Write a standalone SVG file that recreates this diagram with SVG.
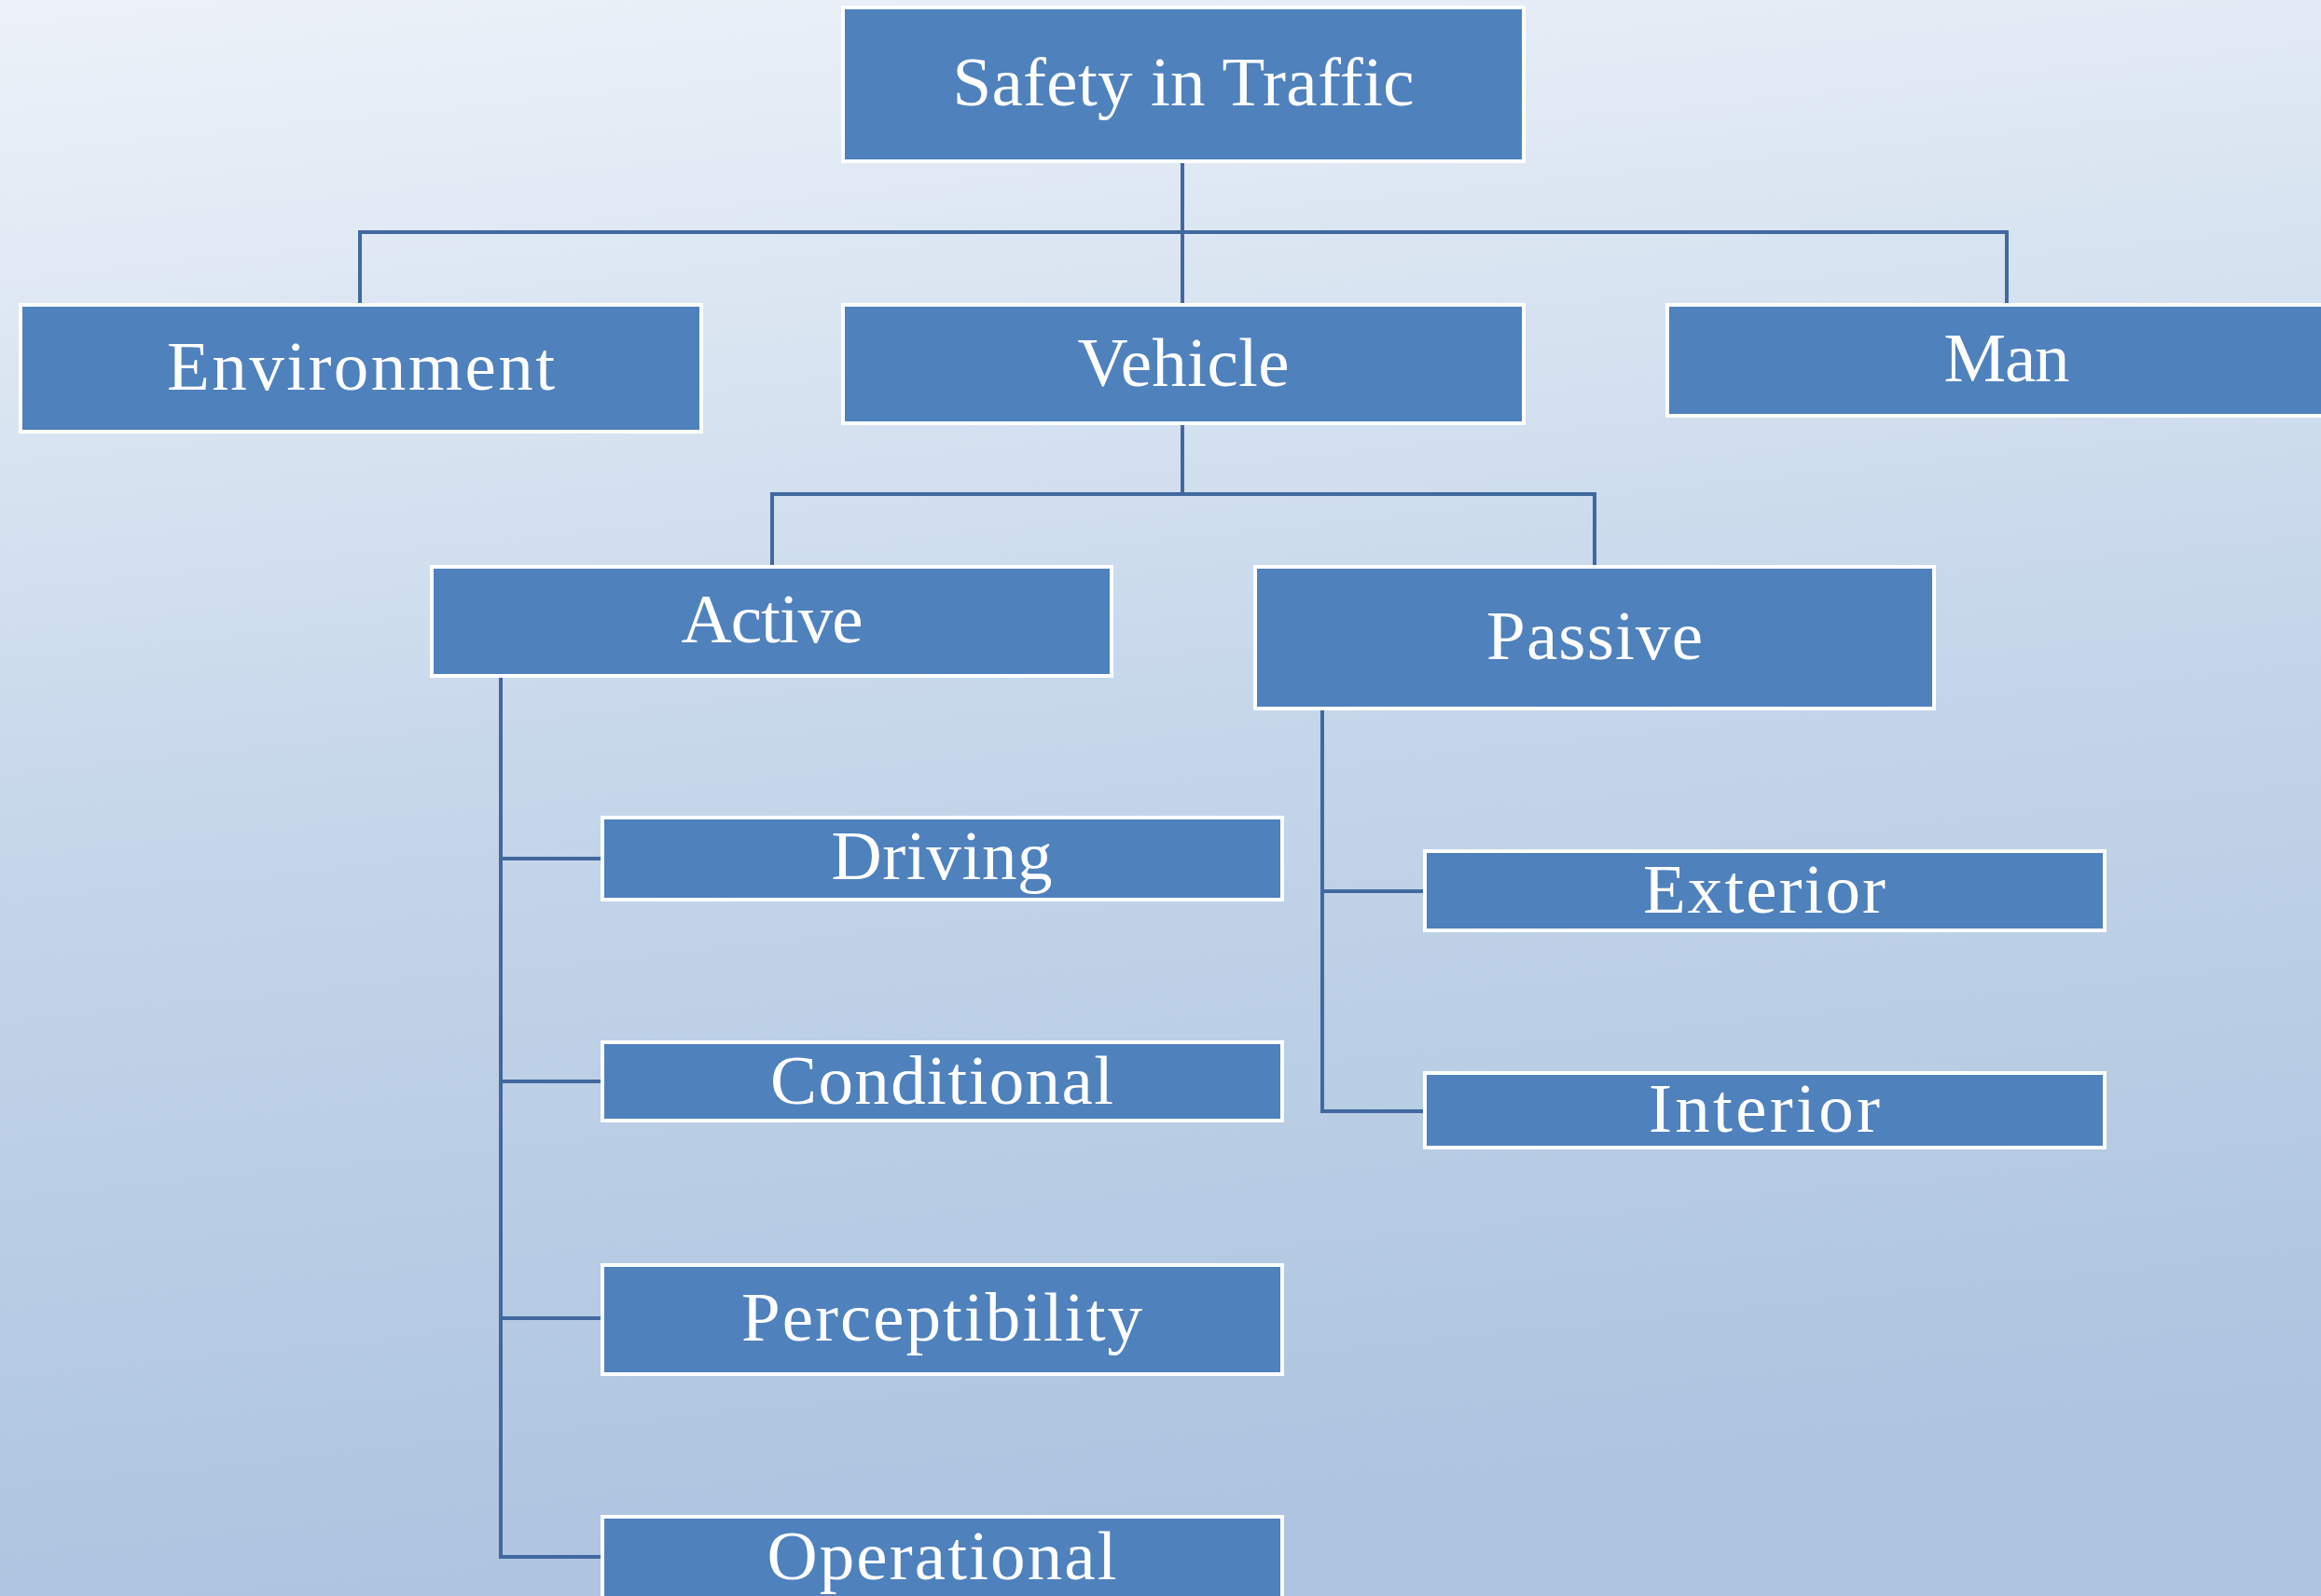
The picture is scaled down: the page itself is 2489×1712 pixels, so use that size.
<svg xmlns="http://www.w3.org/2000/svg" width="2489" height="1712" viewBox="0 0 2489 1712">
<defs>
<linearGradient id="bg" x1="0" y1="0" x2="0.15" y2="1">
<stop offset="0" stop-color="#edf2f9"/>
<stop offset="0.55" stop-color="#c3d5e9"/>
<stop offset="1" stop-color="#aec4e0"/>
</linearGradient>
<style>
.box{fill:#4f81bd;stroke:#ffffff;stroke-width:4}
.lbl{fill:#ffffff;font-family:"Liberation Serif","DejaVu Serif",serif;font-size:75px;text-anchor:middle}
.con{fill:none;stroke:#41699f;stroke-width:4;stroke-linejoin:miter}
</style>
</defs>
<rect x="0" y="0" width="2489" height="1712" fill="url(#bg)"/>
<g id="connectors">
<path class="con" d="M1268,175 V249 M386,327 V249 H2152 V327 M1268,249 V327"/>
<path class="con" d="M1268,454 V530 M828,608 V530 H1710 V608"/>
<path class="con" d="M537,727 V1670 H646 M537,921 H646 M537,1160 H646 M537,1414 H646"/>
<path class="con" d="M1418,762 V1192 H1528 M1418,956 H1528"/>
</g>
<g id="safety"><rect class="box" x="904" y="8" width="730" height="165"/><text class="lbl" x="1269" y="113" textLength="495" lengthAdjust="spacing">Safety in Traffic</text></g>
<g id="environment"><rect class="box" x="22" y="327" width="730" height="136"/><text class="lbl" x="387" y="418" textLength="416" lengthAdjust="spacing">Environment</text></g>
<g id="vehicle"><rect class="box" x="904" y="327" width="730" height="127"/><text class="lbl" x="1269" y="414" textLength="227" lengthAdjust="spacing">Vehicle</text></g>
<g id="man"><rect class="box" x="1788" y="327" width="730" height="119"/><text class="lbl" x="2152" y="409" textLength="135" lengthAdjust="spacing">Man</text></g>
<g id="active"><rect class="box" x="463" y="608" width="729" height="117"/><text class="lbl" x="828" y="689" textLength="195" lengthAdjust="spacing">Active</text></g>
<g id="passive"><rect class="box" x="1346" y="608" width="728" height="152"/><text class="lbl" x="1710" y="707" textLength="232" lengthAdjust="spacing">Passive</text></g>
<g id="driving"><rect class="box" x="646" y="877" width="729" height="88"/><text class="lbl" x="1010" y="943" textLength="237" lengthAdjust="spacing">Driving</text></g>
<g id="conditional"><rect class="box" x="646" y="1118" width="729" height="84"/><text class="lbl" x="1010" y="1184" textLength="368" lengthAdjust="spacing">Conditional</text></g>
<g id="perceptibility"><rect class="box" x="646" y="1357" width="729" height="117"/><text class="lbl" x="1010" y="1438" textLength="430" lengthAdjust="spacing">Perceptibility</text></g>
<g id="operational"><rect class="box" x="646" y="1627" width="729" height="100"/><text class="lbl" x="1010" y="1694" textLength="375" lengthAdjust="spacing">Operational</text></g>
<g id="exterior"><rect class="box" x="1528" y="913" width="729" height="85"/><text class="lbl" x="1892" y="979" textLength="260" lengthAdjust="spacing">Exterior</text></g>
<g id="interior"><rect class="box" x="1528" y="1151" width="729" height="80"/><text class="lbl" x="1892" y="1214" textLength="248" lengthAdjust="spacing">Interior</text></g>
</svg>
